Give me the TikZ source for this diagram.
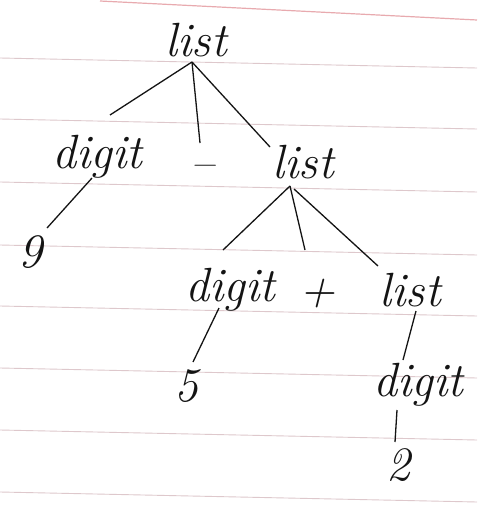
\documentclass[tikz,border=0pt]{standalone}
\definecolor{ruled}{RGB}{222,200,204}
\definecolor{ruledred}{RGB}{232,170,175}
\definecolor{ink}{RGB}{20,20,20}
\begin{document}
\begin{tikzpicture}[x=1pt,y=-1pt,
  sym/.style={inner sep=0pt,text=ink,font=\fontsize{48}{52}\selectfont\itshape},
  edge/.style={draw=ink,line width=1.3pt},
  rule/.style={draw=ruled,line width=0.9pt}]
\useasboundingbox[fill=white] (0,0) rectangle (477,506);
% ruled paper
\draw[draw=ruledred,line width=1.2pt] (100,1) -- (477,20);
\foreach \y in {58,119,182,245,306,368,430,492}
  \draw[rule] (0,\y) -- (477,\y+10);
% nodes
\node[sym] (l1) at (196,40) {list};
\node[sym] (d1) at (97,157) {digit};
\node[sym] (minus) at (202,172) {--};
\node[sym] (l2) at (303,162) {list};
\node[sym] (n9) at (31,252) {9};
\node[sym] (d2) at (230,290) {digit};
\node[sym] (plus) at (317,294) {+};
\node[sym] (l3) at (410,290) {list};
\node[sym] (n5) at (186,386) {5};
\node[sym] (d3) at (418,385) {digit};
\node[sym] (n2) at (398,465) {2};
% connector end points
\coordinate (l1b) at (192,62);
\coordinate (l2b) at (290,186);
\draw[edge] (l1b) -- (110,115);
\draw[edge] (l1b) -- (200,143);
\draw[edge] (l1b) -- (270,147);
\draw[edge] (92,178) -- (47,228);
\draw[edge] (l2b) -- (223,250);
\draw[edge] (l2b) -- (305,250);
\draw[edge] (294,189) -- (378,266);
\draw[edge] (219,308) -- (193,362);
\draw[edge] (416,311) -- (403,360);
\draw[edge] (397,410) -- (395,442);
\end{tikzpicture}
\end{document}
